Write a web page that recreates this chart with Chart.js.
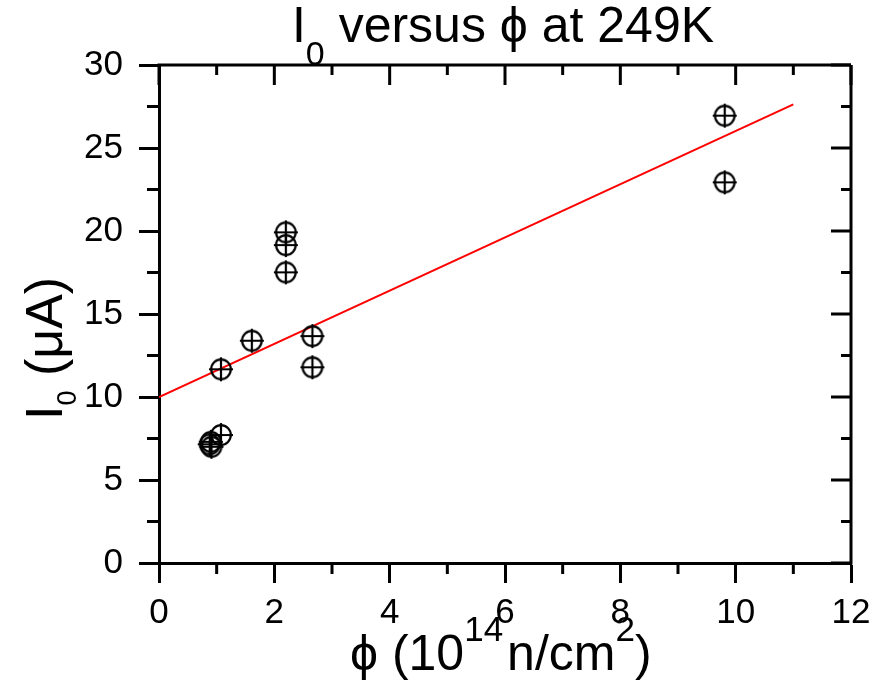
<!DOCTYPE html>
<html>
<head>
<meta charset="utf-8">
<script src="https://cdn.jsdelivr.net/npm/chart.js@4/dist/chart.umd.min.js"></script>
<style>
  html, body { margin: 0; padding: 0; background: #fff; }
  canvas { display: block; }
</style>
</head>
<body>
<canvas id="chartI0" width="886" height="683"></canvas>
<script>
// fluence (1e14 n/cm2) and leakage current I0 (uA)
const fluencia = [0.90, 0.88, 0.91, 1.075, 1.075, 1.61, 2.20, 2.20, 2.20, 2.66, 2.66, 9.81, 9.81];
const corriente = [7.30, 7.15, 7.00, 7.71, 11.67, 13.39, 19.92, 19.15, 17.51, 13.67, 11.79, 26.95, 22.93];

// red linear fit, endpoints
const ajusteX = [0, 11];
const ajusteY = [10.0, 27.63];

const ticksX = [0, 2, 4, 6, 8, 10, 12];
const ticksY = [0, 5, 10, 15, 20, 25, 30];

const FUENTE = '"Liberation Sans", Arial, sans-serif';

// circle with a cross, like the Origin symbol
function crearMarcador() {
    const c = document.createElement('canvas');
    c.width = 28; c.height = 28;
    const g = c.getContext('2d');
    g.strokeStyle = '#000';
    g.lineWidth = 2.2;
    g.beginPath();
    g.arc(14, 14, 9.8, 0, Math.PI * 2);
    g.stroke();
    g.beginPath();
    g.moveTo(2, 14); g.lineTo(26, 14);
    g.moveTo(14, 2); g.lineTo(14, 26);
    g.stroke();
    return c;
}

function textoRico(ctx, trozos, x, y, centrado) {
    let total = 0;
    trozos.forEach(t => {
        ctx.font = t.size + 'px ' + FUENTE;
        t.w = ctx.measureText(t.t).width;
        total += t.w + (t.gap || 0);
    });
    let cx = centrado ? x - total / 2 : x;
    trozos.forEach(t => {
        ctx.font = t.size + 'px ' + FUENTE;
        ctx.fillText(t.t, cx, y + (t.dy || 0));
        cx += t.w + (t.gap || 0);
    });
}

const marcoOrigin = {
    id: 'marcoOrigin',
    afterDraw(chart) {
        const ctx = chart.ctx;
        const a = chart.chartArea;
        const sx = chart.scales.x;
        const sy = chart.scales.y;
        ctx.save();
        ctx.strokeStyle = '#000';
        ctx.fillStyle = '#000';
        ctx.lineWidth = 3;
        ctx.lineCap = 'butt';

        // top and right frame
        ctx.beginPath();
        ctx.moveTo(a.left - 1.5, a.top); ctx.lineTo(a.right, a.top);
        ctx.moveTo(a.right, a.top); ctx.lineTo(a.right, a.bottom + 1.5);
        ctx.stroke();

        // ticks: minor outward on left/bottom, all inward on top/right
        ctx.beginPath();
        for (let v = 0; v <= 12; v++) {
            const px = sx.getPixelForValue(v);
            const mayor = v % 2 === 0;
            if (!mayor) {
                ctx.moveTo(px, a.bottom); ctx.lineTo(px, a.bottom + 11);
            }
            ctx.moveTo(px, a.top); ctx.lineTo(px, a.top + (mayor ? 20 : 10));
        }
        for (let v = 0; v <= 30; v += 2.5) {
            const py = sy.getPixelForValue(v);
            const mayor = v % 5 === 0;
            if (!mayor) {
                ctx.moveTo(a.left, py); ctx.lineTo(a.left - 12, py);
            }
            ctx.moveTo(a.right, py); ctx.lineTo(a.right - (mayor ? 20 : 10), py);
        }
        ctx.stroke();

        // title
        ctx.textBaseline = 'alphabetic';
        ctx.textAlign = 'left';
        textoRico(ctx, [
            { t: 'I', size: 50 },
            { t: '0', size: 34, dy: 23 },
            { t: ' versus \u03D5 at 249K', size: 50 }
        ], 503, 42, true);

        // x axis title
        textoRico(ctx, [
            { t: '\u03D5 (10', size: 50 },
            { t: '14', size: 35, dy: -29, gap: 4 },
            { t: 'n/cm', size: 50 },
            { t: '2', size: 35, dy: -29 },
            { t: ')', size: 50 }
        ], 350, 670, false);

        // y axis title
        ctx.translate(62, 420);
        ctx.rotate(-Math.PI / 2);
        textoRico(ctx, [
            { t: 'I', size: 52 },
            { t: '0', size: 27, dy: 14 },
            { t: ' (\u03BCA)', size: 52 }
        ], 0, 0, false);
        ctx.restore();
    }
};

new Chart(document.getElementById('chartI0'), {
    type: 'scatter',
    data: {
        datasets: [
            {
                label: 'ajuste',
                type: 'line',
                data: ajusteX.map((x, i) => ({ x: x, y: ajusteY[i] })),
                borderColor: '#ff0000',
                borderWidth: 2,
                pointRadius: 0,
                fill: false,
                order: 2
            },
            {
                label: 'I0',
                data: fluencia.map((x, i) => ({ x: x, y: corriente[i] })),
                pointStyle: crearMarcador(),
                pointRadius: 14,
                order: 1
            }
        ]
    },
    options: {
        responsive: false,
        animation: false,
        layout: { padding: { top: 65, right: 35, left: 0, bottom: 0 } },
        plugins: {
            legend: { display: false },
            tooltip: { enabled: false },
            title: { display: false }
        },
        scales: {
            x: {
                type: 'linear',
                min: 0,
                max: 12,
                afterBuildTicks: s => { s.ticks = ticksX.map(v => ({ value: v })); },
                afterFit: s => { s.height = 120; },
                grid: {
                    display: true,
                    drawOnChartArea: false,
                    drawTicks: true,
                    tickLength: 20,
                    tickWidth: 3,
                    tickColor: '#000'
                },
                border: { display: true, color: '#000', width: 3 },
                ticks: {
                    color: '#000',
                    font: { family: FUENTE, size: 35 },
                    padding: 9,
                    maxRotation: 0
                }
            },
            y: {
                type: 'linear',
                min: 0,
                max: 30,
                afterBuildTicks: s => { s.ticks = ticksY.map(v => ({ value: v })); },
                afterFit: s => { s.width = 159; },
                grid: {
                    display: true,
                    drawOnChartArea: false,
                    drawTicks: true,
                    tickLength: 20,
                    tickWidth: 3,
                    tickColor: '#000'
                },
                border: { display: true, color: '#000', width: 3 },
                ticks: {
                    color: '#000',
                    font: { family: FUENTE, size: 35 },
                    padding: 16
                }
            }
        }
    },
    plugins: [marcoOrigin]
});
</script>
</body>
</html>
